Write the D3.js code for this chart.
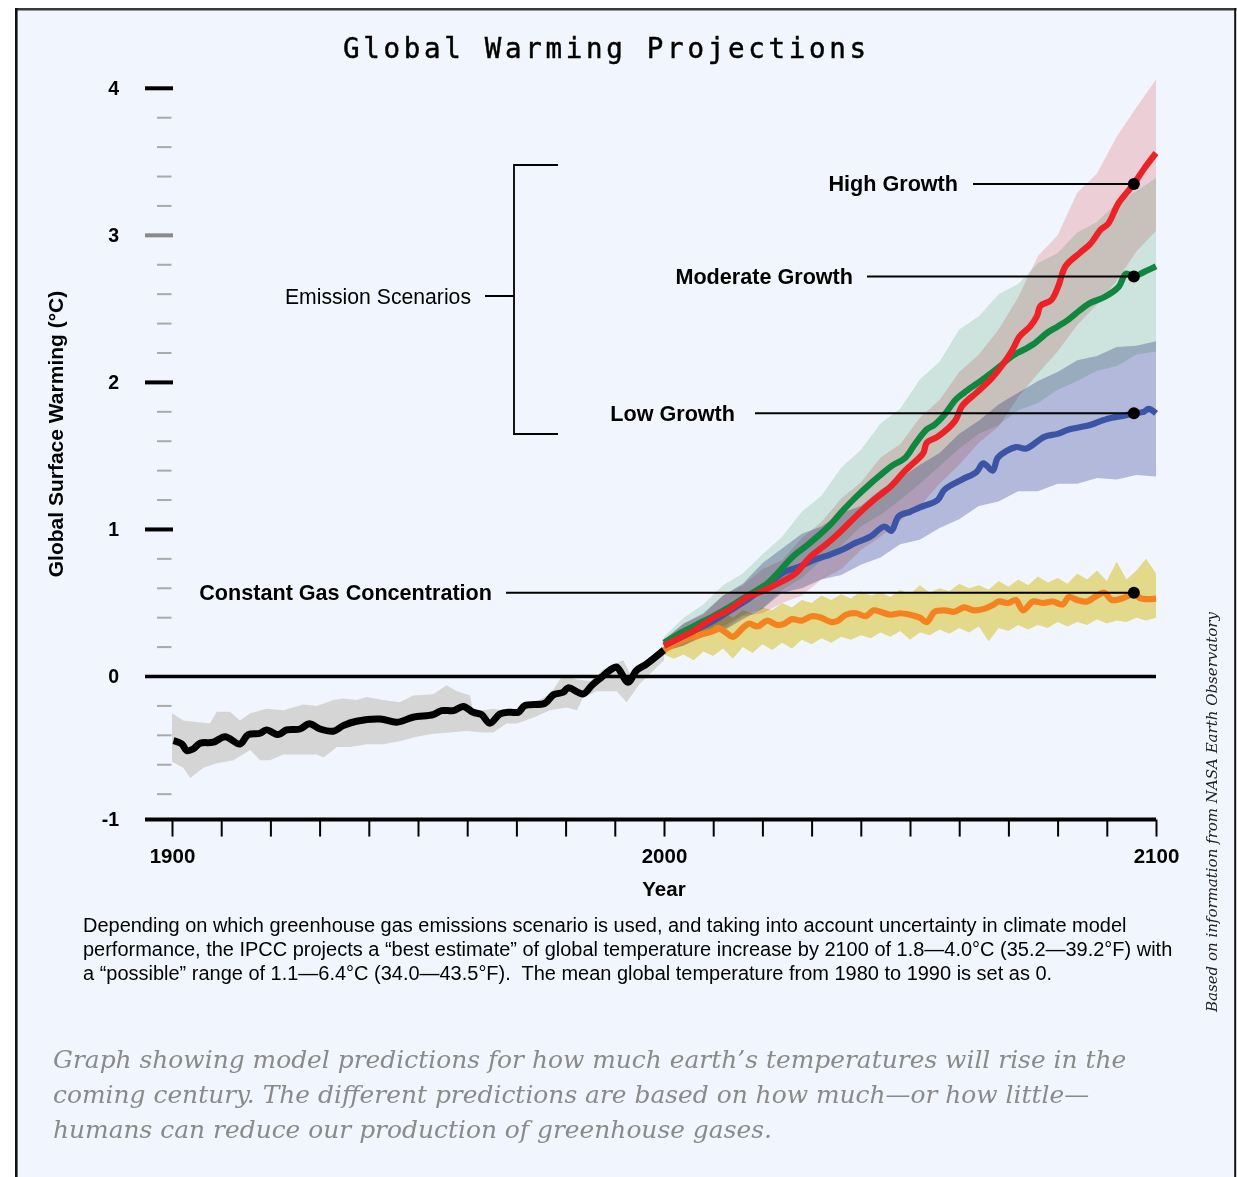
<!DOCTYPE html>
<html><head><meta charset="utf-8">
<script src="https://cdn.jsdelivr.net/npm/d3@7"></script>
<style>
html,body{margin:0;padding:0;background:#fff;}
svg{display:block;}
text{white-space:pre;}
</style></head><body>
<svg id="c" width="1237" height="1177"></svg>
<script>
// ---------------- DATA ----------------
const histYears = [1900.3,1902,1903,1904.3,1905.7,1908.4,1910.8,1913.8,1915.5,1917.9,1919.2,1921.6,1923.3,1926,1927.9,1930.1,1932.8,1934.8,1937.5,1942.3,1945.7,1949,1953.1,1954.8,1957.2,1959.2,1961.2,1962.9,1964.6,1966.7,1968.7,1970.4,1971.7,1975.8,1977.5,1979.5,1980.5,1983.6,1985.3,1987.3,1989.4,1990.4,1992.7,1994.4,1996.5,2000];
const histMean  = [-0.436,-0.459,-0.504,-0.493,-0.454,-0.447,-0.409,-0.459,-0.395,-0.386,-0.363,-0.395,-0.363,-0.357,-0.322,-0.357,-0.372,-0.334,-0.304,-0.289,-0.311,-0.277,-0.259,-0.232,-0.232,-0.204,-0.243,-0.259,-0.318,-0.254,-0.243,-0.243,-0.198,-0.182,-0.125,-0.107,-0.077,-0.118,-0.061,-0.005,0.052,0.064,-0.039,0.041,0.086,0.18];
const histUpper = [[1900,-0.25],[1902.3,-0.30],[1907.7,-0.32],[1909.1,-0.24],[1911.8,-0.24],[1913.8,-0.30],[1915.9,-0.25],[1919.2,-0.22],[1922.6,-0.23],[1926.7,-0.19],[1929.4,-0.20],[1932.8,-0.16],[1934.8,-0.15],[1937.5,-0.16],[1939.6,-0.14],[1942.9,-0.16],[1946.3,-0.175],[1949,-0.13],[1953.1,-0.12],[1955.8,-0.06],[1957.9,-0.10],[1960.6,-0.13],[1961.2,-0.24],[1965.3,-0.22],[1969.4,-0.24],[1972.8,-0.19],[1976.8,-0.12],[1979.5,0.01],[1982.3,-0.02],[1985,-0.03],[1987.7,0.05],[1991.7,0.11],[1993.1,0.02],[1995.8,0.10],[2000,0.20]];
const histLower = [[1900,-0.58],[1902.3,-0.62],[1903.7,-0.69],[1906.4,-0.62],[1909.1,-0.59],[1912.5,-0.57],[1915.9,-0.50],[1917.9,-0.57],[1919.9,-0.57],[1922.6,-0.53],[1926,-0.53],[1929.4,-0.53],[1930.8,-0.55],[1933.5,-0.48],[1936.2,-0.48],[1939.6,-0.46],[1942.9,-0.46],[1946.3,-0.44],[1949.7,-0.41],[1953.1,-0.39],[1956.5,-0.38],[1959.9,-0.37],[1963.3,-0.38],[1965.3,-0.38],[1968,-0.32],[1970.1,-0.32],[1973.4,-0.28],[1976.8,-0.23],[1980.2,-0.21],[1982.3,-0.23],[1983.6,-0.14],[1986.3,-0.10],[1990.4,-0.10],[1992.4,-0.175],[1995.1,-0.05],[2000,0.11]];

const highYears = [2000,2003,2006,2010,2013,2017,2020,2023,2026.7,2029.6,2033,2036,2039,2042.6,2046,2049,2052.7,2053.4,2055.6,2059.2,2060.6,2063.5,2066.4,2068.6,2070.8,2072.2,2074.4,2075.8,2076.5,2078.7,2080.1,2081.6,2084.5,2086.6,2088.8,2090.3,2092.4,2095.5,2097.5,2100];
const highMean  = [0.21,0.26,0.31,0.40,0.45,0.54,0.58,0.63,0.70,0.81,0.90,0.99,1.09,1.20,1.29,1.40,1.52,1.59,1.63,1.74,1.84,1.93,2.02,2.11,2.22,2.31,2.38,2.45,2.52,2.56,2.65,2.79,2.88,2.94,3.04,3.08,3.22,3.35,3.45,3.56];
const modYears  = [2000,2003,2006.5,2010,2013.7,2017,2020.9,2023,2026,2029,2031.8,2034,2036.1,2039,2041.9,2044,2046.2,2049.1,2051,2053.4,2054.9,2057,2059.2,2061,2063.5,2066,2067.9,2070.8,2073,2075.1,2078,2080,2082.3,2084.5,2086.6,2089.5,2092.4,2093.9,2095.5,2097.5,2100];
const modMean   = [0.23,0.29,0.35,0.41,0.48,0.55,0.63,0.70,0.81,0.89,0.97,1.04,1.12,1.22,1.31,1.37,1.43,1.49,1.58,1.68,1.71,1.78,1.88,1.93,1.99,2.05,2.10,2.18,2.22,2.26,2.34,2.38,2.43,2.49,2.54,2.58,2.65,2.74,2.72,2.75,2.79];
const lowYears  = [2000,2003,2006,2010.1,2013,2017.3,2020,2024.5,2027,2030.3,2033,2036.1,2039,2041.9,2044.8,2046.2,2047.7,2050,2052,2055.6,2057,2060.6,2063.5,2064.9,2066.8,2067.9,2071.5,2073.6,2077.3,2080,2082.3,2086.6,2089,2091,2093,2095.5,2097.5,2098.5,2100];
const lowMean   = [0.21,0.26,0.31,0.38,0.44,0.53,0.60,0.71,0.74,0.79,0.82,0.86,0.91,0.95,1.02,0.99,1.09,1.12,1.15,1.20,1.27,1.34,1.39,1.45,1.40,1.49,1.56,1.55,1.63,1.65,1.68,1.71,1.74,1.76,1.77,1.79,1.80,1.82,1.79];
const constYears= [2000,2002,2004,2006,2008,2010,2011,2012.5,2014,2016,2017.3,2019,2021,2023,2024.5,2026,2028,2030,2032,2034,2035.4,2037,2039,2041,2042.6,2044,2046,2048,2050,2052,2053.4,2055,2057,2059,2061,2063,2065,2067,2068,2070,2071.5,2073,2075,2077,2079,2081,2082.3,2084,2086,2088,2089.5,2091,2093,2095.5,2097,2100];
const constMean = [0.18,0.22,0.25,0.27,0.29,0.31,0.33,0.30,0.27,0.33,0.36,0.34,0.38,0.35,0.36,0.39,0.38,0.41,0.40,0.37,0.38,0.42,0.43,0.41,0.45,0.44,0.42,0.43,0.42,0.40,0.37,0.44,0.45,0.44,0.47,0.45,0.46,0.49,0.51,0.50,0.52,0.45,0.51,0.50,0.51,0.49,0.54,0.52,0.51,0.55,0.57,0.52,0.53,0.56,0.53,0.53];

const bandYears = [2000,2004,2008,2012,2016,2020,2024,2028,2032,2036,2040,2044,2048,2052,2056,2060,2064,2068,2072,2076,2080,2084,2088,2092,2096,2100];
const highUpper = [0.25,0.36,0.42,0.55,0.62,0.73,0.79,0.94,1.05,1.21,1.32,1.49,1.58,1.76,1.88,2.07,2.19,2.36,2.58,2.86,3.00,3.29,3.42,3.67,3.87,4.06];
const highLower = [0.17,0.21,0.28,0.32,0.41,0.43,0.50,0.55,0.66,0.73,0.86,0.95,1.06,1.16,1.31,1.44,1.59,1.70,1.90,2.06,2.21,2.39,2.53,2.69,2.89,3.03];
const modUpper  = [0.27,0.40,0.49,0.62,0.70,0.83,0.95,1.12,1.23,1.42,1.54,1.72,1.82,2.02,2.14,2.36,2.45,2.60,2.67,2.81,2.88,3.02,3.09,3.22,3.30,3.39];
const modLower  = [0.19,0.24,0.31,0.34,0.42,0.46,0.59,0.67,0.79,0.89,1.02,1.10,1.20,1.31,1.43,1.55,1.65,1.71,1.81,1.86,1.95,2.01,2.08,2.11,2.19,2.21];
const lowUpper  = [0.25,0.36,0.43,0.55,0.63,0.77,0.87,0.97,1.02,1.11,1.16,1.27,1.35,1.44,1.52,1.65,1.74,1.85,1.93,2.01,2.07,2.15,2.18,2.24,2.25,2.28];
const lowLower  = [0.17,0.21,0.27,0.31,0.39,0.46,0.57,0.60,0.66,0.69,0.76,0.81,0.90,0.93,1.01,1.07,1.16,1.19,1.26,1.26,1.31,1.31,1.35,1.34,1.37,1.36];
const constBandYears = d3.range(2000, 2101, 2);
const constUpper = [0.22,0.28,0.32,0.36,0.40,0.38,0.44,0.40,0.45,0.43,0.47,0.45,0.50,0.47,0.52,0.50,0.55,0.52,0.56,0.53,0.58,0.55,0.57,0.54,0.59,0.56,0.62,0.57,0.60,0.58,0.63,0.60,0.62,0.59,0.65,0.61,0.66,0.62,0.68,0.64,0.67,0.63,0.70,0.66,0.72,0.65,0.78,0.66,0.72,0.80,0.70];
const constLower = [0.15,0.12,0.15,0.11,0.17,0.14,0.19,0.12,0.20,0.16,0.22,0.18,0.23,0.19,0.25,0.22,0.26,0.23,0.27,0.25,0.28,0.26,0.30,0.27,0.31,0.25,0.30,0.28,0.32,0.29,0.33,0.30,0.34,0.24,0.33,0.31,0.35,0.32,0.35,0.33,0.37,0.34,0.37,0.35,0.39,0.36,0.38,0.37,0.40,0.38,0.40];

const yMajorTicks = [-1, 0, 1, 2, 3, 4];
const xTicks = [1900,1910,1920,1930,1940,1950,1960,1970,1980,1990,2000,2010,2020,2030,2040,2050,2060,2070,2080,2090,2100];
const xTickLabels = [1900, 2000, 2100];
const scenarioLabels = ["High Growth", "Moderate Growth", "Low Growth", "Constant Gas Concentration"];
const scenarioMarkerYear = 2095.5;
const scenarioMarkerValues = [3.35, 2.72, 1.79, 0.57];

const titleText = "Global Warming Projections";
const yTitle = "Global Surface Warming (°C)";
const xTitle = "Year";
const bracketLabel = "Emission Scenarios";
const captionLines = [
  "Depending on which greenhouse gas emissions scenario is used, and taking into account uncertainty in climate model",
  "performance, the IPCC projects a “best estimate” of global temperature increase by 2100 of 1.8—4.0°C (35.2—39.2°F) with",
  "a “possible” range of 1.1—6.4°C (34.0—43.5°F).  The mean global temperature from 1980 to 1990 is set as 0."
];
const italicLines = [
  "Graph showing model predictions for how much earth’s temperatures will rise in the",
  "coming century. The different predictions are based on how much—or how little—",
  "humans can reduce our production of greenhouse gases."
];
const sourceText = "Based on information from NASA Earth Observatory";

// ---------------- DRAW ----------------
const SANS = "'Liberation Sans', Arial, Helvetica, sans-serif";
const svg = d3.select('#c');
svg.append('rect').attr('width',1237).attr('height',1177).attr('fill','#ffffff');
svg.append('rect').attr('x',16.5).attr('y',9.5).attr('width',1218.5).attr('height',1200).attr('fill','#f1f5fd');
svg.append('line').attr('x1',15).attr('x2',1236.5).attr('y1',9.3).attr('y2',9.3).attr('stroke','#3a3a3a').attr('stroke-width',2.6);
svg.append('line').attr('x1',16.3).attr('x2',16.3).attr('y1',8).attr('y2',1177).attr('stroke','#111').attr('stroke-width',2.6);
svg.append('line').attr('x1',1235.2).attr('x2',1235.2).attr('y1',8).attr('y2',1177).attr('stroke','#111').attr('stroke-width',2);

const x = d3.scaleLinear().domain([1900, 2100]).range([172, 1156]);
const y = d3.scaleLinear().domain([0, 4]).range([676.5, 88.3]);
const axisY = y(-1) - 4;

const g = svg.append('g');

// historical band
const pl = d3.line().x(d => x(d[0])).y(d => y(d[1]));
g.append('path')
  .attr('d', pl(histUpper.concat(histLower.slice().reverse())) + 'Z')
  .attr('fill', '#d5d5d5');

// projection bands (multiply blending to mimic overlapping transparencies)
const area = d3.area().x(d => x(d[0])).y0(d => y(d[1])).y1(d => y(d[2]));
const zip3 = (a, b, c) => a.map((v, i) => [v, b[i], c[i]]);
const bands = [
  {yrs: constBandYears, lo: constLower, hi: constUpper, fill: '#f0e28b'},
  {yrs: bandYears, lo: lowLower, hi: lowUpper, fill: '#bec1dc'},
  {yrs: bandYears, lo: modLower, hi: modUpper, fill: '#d8eedf'},
  {yrs: bandYears, lo: highLower, hi: highUpper, fill: '#fad8d8'}
];
bands.forEach(b => {
  g.append('path').attr('d', area(zip3(b.yrs, b.lo, b.hi)))
    .attr('fill', b.fill).style('mix-blend-mode', 'multiply');
});

// zero line
g.append('line').attr('x1', 145).attr('x2', x(2100)).attr('y1', y(0)).attr('y2', y(0))
  .attr('stroke', '#000').attr('stroke-width', 3.5);

// minor y ticks
const minor = d3.range(-4, 20).map(i => i / 5).filter(v => Math.abs(v - Math.round(v)) > 1e-6);
g.append('g').selectAll('line').data(minor).join('line')
  .attr('x1', 157).attr('x2', 171.5).attr('y1', d => y(d)).attr('y2', d => y(d))
  .attr('stroke', '#a9a9a9').attr('stroke-width', 2);

// y axis (major ticks)
const yAxisG = g.append('g').attr('transform', 'translate(173,0)')
  .call(d3.axisLeft(y).tickValues(yMajorTicks).tickSize(28).tickPadding(26).tickFormat(d => String(d)));
yAxisG.select('.domain').remove();
yAxisG.selectAll('.tick line')
  .attr('stroke', d => d === 3 ? '#8a8a8a' : '#000')
  .attr('stroke-width', 4)
  .style('display', d => (d === 0 || d === -1) ? 'none' : null);
yAxisG.selectAll('.tick')
  .attr('transform', d => `translate(0,${d === -1 ? axisY : y(d)})`);
yAxisG.selectAll('.tick text')
  .attr('font-family', SANS).attr('font-weight', 'bold').attr('font-size', 19.5).attr('fill', '#000');

// x axis
g.append('line').attr('x1', 145).attr('x2', x(2100)).attr('y1', axisY).attr('y2', axisY)
  .attr('stroke', '#000').attr('stroke-width', 4);
const xAxisG = g.append('g').attr('transform', `translate(0,${axisY})`)
  .call(d3.axisBottom(x).tickValues(xTicks).tickSize(17).tickPadding(12)
    .tickFormat(d => xTickLabels.includes(d) ? String(d) : ''));
xAxisG.select('.domain').remove();
xAxisG.selectAll('.tick line').attr('stroke', '#000').attr('stroke-width', 2);
xAxisG.selectAll('.tick text')
  .attr('font-family', SANS).attr('font-weight', 'bold').attr('font-size', 20.5).attr('fill', '#000');

// axis titles
g.append('text').attr('x', x(2000)).attr('y', 896).attr('text-anchor', 'middle')
  .attr('font-family', SANS).attr('font-weight', 'bold').attr('font-size', 20.5).text(xTitle);
g.append('text').attr('transform', 'translate(63,434) rotate(-90)').attr('text-anchor', 'middle')
  .attr('font-family', SANS).attr('font-weight', 'bold').attr('font-size', 21).text(yTitle);

// lines
const ln = d3.line().x(d => x(d[0])).y(d => y(d[1])).curve(d3.curveCatmullRom.alpha(0.5));
const zip2 = (a, b) => a.map((v, i) => [v, b[i]]);
const series = [
  {yrs: histYears, vals: histMean, color: '#000000', w: 7},
  {yrs: constYears, vals: constMean, color: '#f5821f', w: 6.2},
  {yrs: lowYears, vals: lowMean, color: '#3a55a6', w: 6.2},
  {yrs: modYears, vals: modMean, color: '#10873f', w: 6.2},
  {yrs: highYears, vals: highMean, color: '#ec2227', w: 6.2}
];
series.forEach(s => {
  g.append('path').attr('d', ln(zip2(s.yrs, s.vals)))
    .attr('fill', 'none').attr('stroke', s.color).attr('stroke-width', s.w)
    .attr('stroke-linejoin', 'round').attr('stroke-linecap', 'butt');
});

// scenario labels with leaders
const labelCfg = [
  {end: 958, lineStart: 973},
  {end: 853, lineStart: 867},
  {end: 735, lineStart: 755},
  {end: 492, lineStart: 506}
];
scenarioLabels.forEach((lab, i) => {
  const yy = y(scenarioMarkerValues[i]);
  const c = labelCfg[i];
  g.append('line').attr('x1', c.lineStart).attr('x2', x(scenarioMarkerYear)).attr('y1', yy).attr('y2', yy)
    .attr('stroke', '#000').attr('stroke-width', 2);
  g.append('circle').attr('cx', x(scenarioMarkerYear)).attr('cy', yy).attr('r', 6).attr('fill', '#000');
  g.append('text').attr('x', c.end).attr('y', yy + 7.5).attr('text-anchor', 'end')
    .attr('font-family', SANS).attr('font-weight', 'bold').attr('font-size', 21.6).attr('fill', '#000').text(lab);
});

// emission scenarios bracket
g.append('path').attr('d', 'M558,165 H514 V434 H558 M514,296 H485')
  .attr('fill', 'none').attr('stroke', '#000').attr('stroke-width', 1.8);
g.append('text').attr('x', 471).attr('y', 303.5).attr('text-anchor', 'end')
  .attr('font-family', SANS).attr('font-size', 21.2).attr('fill', '#000').text(bracketLabel);

// title
const title = svg.append('text').attr('x', 343).attr('y', 58)
  .attr('font-family', "'DejaVu Sans Mono', monospace").attr('font-size', 27.5)
  .attr('fill', '#000').attr('stroke', '#000').attr('stroke-width', 0.45).text(titleText);
{
  const w = title.node().getComputedTextLength();
  const n = titleText.length;
  title.attr('letter-spacing', (523 - w) / (n - 1));
}

function fitFont(sel, target) {
  const w = sel.node().getComputedTextLength();
  const fs = parseFloat(sel.attr('font-size'));
  return fs * target / w;
}

// caption
const cap = svg.append('g');
const capBase = [932, 956, 980];
captionLines.forEach((t, i) => {
  cap.append('text').attr('x', 83).attr('y', capBase[i])
    .attr('font-family', SANS).attr('font-size', 18).attr('fill', '#000').text(t);
});
{
  const fs = fitFont(cap.select('text'), 1044);
  cap.selectAll('text').attr('font-size', fs);
}

// italic description
const it = svg.append('g');
const itBase = [1068, 1103, 1138];
italicLines.forEach((t, i) => {
  it.append('text').attr('x', 53).attr('y', itBase[i])
    .attr('font-family', "'DejaVu Serif', Georgia, serif").attr('font-style', 'italic')
    .attr('font-size', 24).attr('fill', '#8a8a8a').text(t);
});
{
  const fs = fitFont(it.select('text'), 1074);
  it.selectAll('text').attr('font-size', fs);
}

// source note
const src = svg.append('text').attr('transform', 'translate(1217,812) rotate(-90)').attr('text-anchor', 'middle')
  .attr('font-family', "'DejaVu Serif', Georgia, serif").attr('font-style', 'italic')
  .attr('font-size', 15).attr('fill', '#222').text(sourceText);
src.attr('font-size', fitFont(src, 400));
</script>
</body></html>
